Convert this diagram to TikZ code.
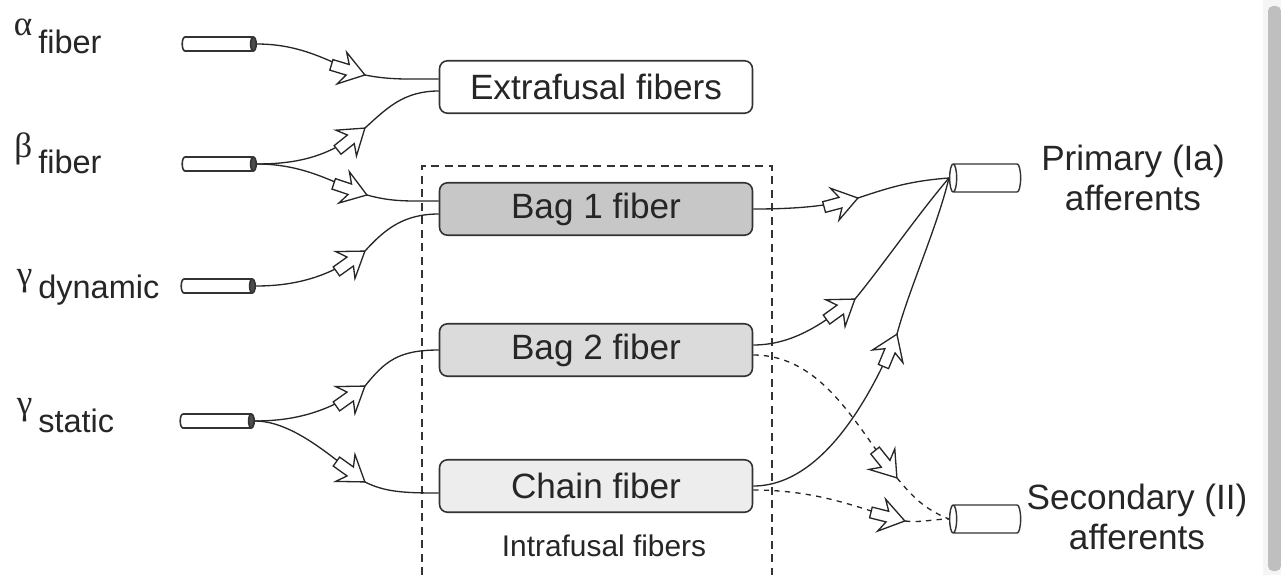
\documentclass[tikz,border=0pt]{standalone}
\usepackage{fontspec}
\setmainfont{Liberation Sans}
\newfontfamily\grkfont{Liberation Serif}
\newcommand{\greekch}[2]{\llap{\raisebox{#1}{\grkfont\fontsize{20}{20}\selectfont #2}\hspace{0.12cm}}}
\usetikzlibrary{shapes.geometric,decorations.markings,positioning}

\begin{document}
\begin{tikzpicture}[x=0.02cm, y=-0.02cm,
    fibre/.style={rectangle, draw=black!80, line width=0.9pt, rounded corners=0.16cm,
                  minimum width=6.26cm, minimum height=1.05cm, text=black!85,
                  font=\fontsize{20}{24}\selectfont},
    stub/.style={cylinder, draw=black!80, line width=0.9pt, aspect=0.4, shape border rotate=0,
                 cylinder uses custom fill, cylinder body fill=white, cylinder end fill=black!70,
                 minimum height=1.48cm, inner xsep=0pt, inner ysep=0.14cm},
    afferent/.style={cylinder, draw=black!80, line width=0.8pt, aspect=0.25, shape border rotate=180,
                 fill=white, minimum height=1.42cm, inner xsep=0pt, inner ysep=0.28cm},
    lbl/.style={font=\fontsize{18.5}{22}\selectfont, text=black!85, inner sep=0pt},
    rlbl/.style={align=center, font=\fontsize{20}{23}\selectfont, text=black!85, inner sep=0pt},
    wire/.style={line width=0.75pt, draw=black!85},
    hollow/.style={postaction={decorate}, decoration={markings, mark=at position 0.999 with
        {\draw[solid, fill=white, line width=0.75pt, line join=miter]
           (0,0) -- (-0.48cm,0.33cm) -- (-0.36cm,0.11cm) -- (-0.7cm,0.11cm) -- (-0.7cm,-0.11cm)
           -- (-0.36cm,-0.11cm) -- (-0.48cm,-0.33cm) -- cycle;}}}
]
\useasboundingbox (0,0) rectangle (1281,575);
\fill[black!4] (1263,0) rectangle (1281,575);
\fill[black!25, rounded corners=0.1cm] (1268,6) rectangle (1281,571);

\draw[line width=0.8pt, draw=black!80, dash pattern=on 0.16cm off 0.11cm] (422,575) |- (772,166) -- (772,575);
\node[font=\fontsize{17}{20}\selectfont, text=black!85] (intra) at (604,546) {Intrafusal fibers};

\node[fibre, fill=white] (extra) at (596,87) {Extrafusal fibers};
\node[fibre, fill=black!22] (bagone) at (596,209) {Bag 1 fiber};
\node[fibre, fill=black!14] (bagtwo) at (596,350) {Bag 2 fiber};
\node[fibre, fill=black!7] (chain) at (596,486) {Chain fiber};

\node[stub] (alphastub) at (216,44) {};
\node[stub] (betastub) at (216,164) {};
\node[stub] (gdynstub) at (215,286) {};
\node[stub] (gstatstub) at (214,421) {};

\node[lbl, anchor=base west] (alphalbl) at (38,53) {\greekch{0.36cm}{α}fiber};
\node[lbl, anchor=base west] (betalbl) at (38,173) {\greekch{0.32cm}{β}fiber};
\node[lbl, anchor=base west] (gdynlbl) at (38,298) {\greekch{0.26cm}{γ}dynamic};
\node[lbl, anchor=base west] (gstatlbl) at (38,432) {\greekch{0.36cm}{γ}static};

\node[afferent] (prim) at (989,178) {};
\node[afferent] (sec) at (989,519) {};
\node[rlbl] (primlbl) at (1133,178) {Primary (Ia)\\afferents};
\node[rlbl] (seclbl) at (1137,517) {Secondary (II)\\afferents};

\coordinate (a1) at (365,75);
\coordinate (b1) at (365,128);
\coordinate (b2) at (367,195);
\coordinate (c1) at (365,251);
\coordinate (d1) at (365,386);
\coordinate (d2) at (365,482);
\coordinate (e1) at (858,198);
\coordinate (e2) at (855,299);
\coordinate (e3) at (897,334);
\coordinate (f1) at (897,478);
\coordinate (f2) at (905,521);

\draw[wire, hollow] (alphastub.east) .. controls +(50,0) and +(-30,-9) .. (a1);
\draw[wire] (a1) .. controls +(25,5) and +(-30,0) .. ([yshift=0.16cm]extra.west);
\draw[wire, hollow] (betastub.east) .. controls +(50,0) and +(-30,24) .. (b1);
\draw[wire] (b1) .. controls +(22,-20) and +(-35,0) .. ([yshift=-0.08cm]extra.west);
\draw[wire, hollow] (betastub.east) .. controls +(50,0) and +(-30,-10) .. (b2);
\draw[wire] (b2) .. controls +(25,7) and +(-30,0) .. ([yshift=0.16cm]bagone.west);
\draw[wire, hollow] (gdynstub.east) .. controls +(50,0) and +(-28,20) .. (c1);
\draw[wire] (c1) .. controls +(20,-22) and +(-35,0) .. ([yshift=-0.1cm]bagone.west);
\draw[wire, hollow] (gstatstub.east) .. controls +(50,0) and +(-28,20) .. (d1);
\draw[wire] (d1) .. controls +(20,-25) and +(-40,0) .. (bagtwo.west);
\draw[wire, hollow] (gstatstub.east) .. controls +(40,0) and +(-28,-20) .. (d2);
\draw[wire] (d2) .. controls +(20,10) and +(-35,0) .. ([yshift=-0.14cm]chain.west);

\draw[wire, hollow] (bagone.east) .. controls +(45,0) and +(-30,8) .. (e1);
\draw[wire] (e1) .. controls +(30,-10) and +(-40,3) .. (prim.west);
\draw[wire, hollow] ([yshift=0.1cm]bagtwo.east) .. controls +(45,0) and +(-25,18) .. (e2);
\draw[wire] (e2) .. controls +(25,-30) and +(-30,35) .. (prim.west);
\draw[wire, hollow] (chain.east) .. controls +(70,0) and +(-25,60) .. (e3);
\draw[wire] (e3) .. controls +(12,-45) and +(-12,50) .. (prim.west);
\draw[wire, dashed, hollow] ([yshift=-0.1cm]bagtwo.east) .. controls +(70,0) and +(-40,-50) .. (f1);
\draw[wire, dashed] (f1) .. controls +(15,18) and +(-25,-10) .. (sec.west);
\draw[wire, dashed, hollow] ([yshift=-0.08cm]chain.east) .. controls +(70,0) and +(-40,-10) .. (f2);
\draw[wire, dashed] (f2) .. controls +(15,2) and +(-15,0) .. (sec.west);
\end{tikzpicture}
\end{document}
